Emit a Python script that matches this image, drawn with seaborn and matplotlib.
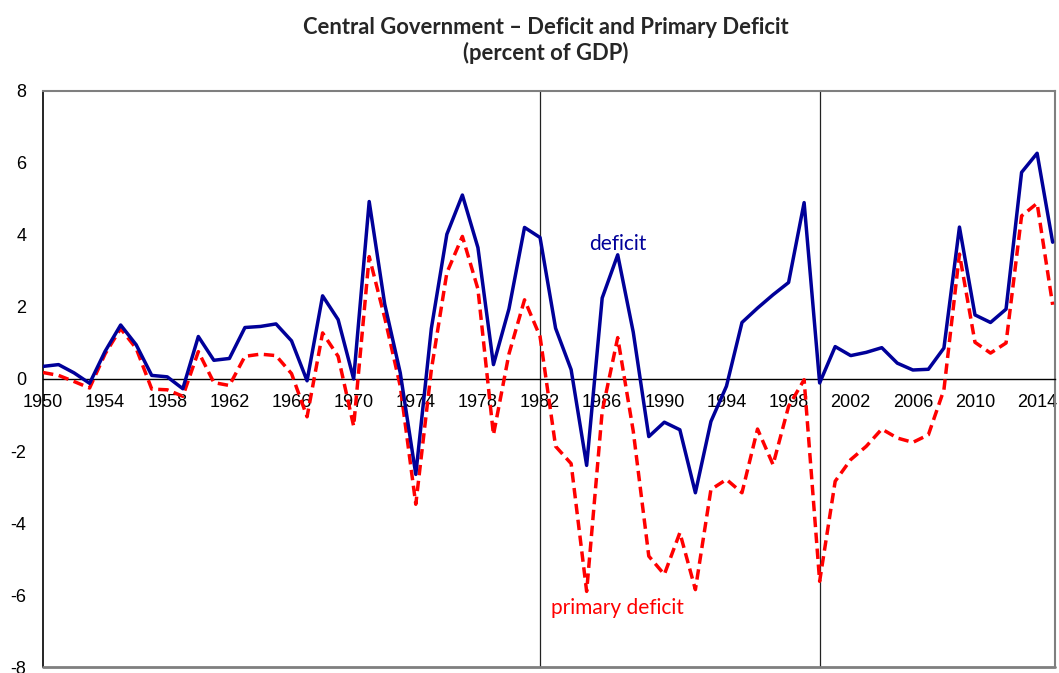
import matplotlib
matplotlib.use('Agg')
import matplotlib.pyplot as plt
import seaborn as sns

# years on the x axis
years = list(range(1950, 2016))

# overall deficit (% of GDP)
deficit = [0.35, 0.40, 0.17, -0.12, 0.77, 1.50, 0.95, 0.10, 0.06, -0.27,
           1.18, 0.52, 0.57, 1.43, 1.46, 1.53, 1.06, -0.05, 2.31, 1.65,
           0.00, 4.93, 2.08, 0.17, -2.65, 1.40, 4.02, 5.11, 3.65, 0.40,
           1.95, 4.21, 3.93, 1.41, 0.26, -2.40, 2.25, 3.45, 1.30, -1.60,
           -1.20, -1.41, -3.16, -1.18, -0.20, 1.57, 1.97, 2.34, 2.68, 4.90,
           -0.11, 0.90, 0.65, 0.74, 0.87, 0.44, 0.25, 0.27, 0.86, 4.22,
           1.78, 1.57, 1.94, 5.74, 6.27, 3.80]

# primary deficit (% of GDP)
primary = [0.18, 0.10, -0.07, -0.25, 0.70, 1.40, 0.85, -0.28, -0.30, -0.48,
           0.76, -0.10, -0.18, 0.63, 0.69, 0.65, 0.15, -1.05, 1.28, 0.63,
           -1.31, 3.40, 1.70, -0.20, -3.48, 0.25, 2.95, 3.96, 2.50, -1.55,
           0.70, 2.20, 1.18, -1.87, -2.35, -5.90, -0.90, 1.15, -1.45, -4.92,
           -5.43, -4.27, -5.85, -3.07, -2.79, -3.16, -1.39, -2.38, -0.76, -0.02,
           -5.62, -2.84, -2.24, -1.87, -1.39, -1.64, -1.76, -1.55, -0.30, 3.47,
           1.02, 0.72, 1.00, 4.53, 4.88, 2.06]

xticks = list(range(1950, 2015, 4))
yticks = list(range(-8, 9, 2))
breaks = [1982, 2000]

sns.set_style('white')
plt.rcParams['font.family'] = ['Liberation Sans', 'DejaVu Sans']
plt.rcParams['axes.unicode_minus'] = False

fig = plt.figure(figsize=(10.59, 6.73), dpi=100)
ax = fig.add_axes([0.0406, 0.0089, 0.9556, 0.8559])

sns.lineplot(x=years, y=primary, ax=ax, color='#ff0000', linewidth=2.5,
             linestyle=(0, (3, 1.6)), zorder=3)
sns.lineplot(x=years, y=deficit, ax=ax, color='#000099', linewidth=2.5,
             zorder=4)

for b in breaks:
    ax.axvline(b, color='#222222', linewidth=0.9, zorder=2)

ax.set_xlim(1950, 2015.15)
ax.set_ylim(-8, 8)
ax.set_xticks(xticks)
ax.set_yticks(yticks)
ax.set_xlabel('')
ax.set_ylabel('')

# x axis crosses at zero, frame around the plot area
ax.spines['bottom'].set_position(('data', 0))
ax.spines['bottom'].set_color('black')
ax.spines['bottom'].set_linewidth(1.0)
ax.spines['left'].set_color('black')
ax.spines['left'].set_linewidth(1.2)
for s in ['top', 'right']:
    ax.spines[s].set_color('#7f7f7f')
    ax.spines[s].set_linewidth(1.5)
ax.axhline(-8, color='#7f7f7f', linewidth=2, zorder=5, clip_on=False)

ax.tick_params(axis='both', direction='out', length=5, width=1,
               labelsize=13, colors='black', pad=6)
ax.tick_params(axis='y', pad=7)

ax.text(1987.0, 3.75, 'deficit', color='#000099', fontsize=15,
        family=['Lato', 'DejaVu Sans'], ha='center', va='center')
ax.text(1986.95, -6.35, 'primary deficit', color='#ff0000', fontsize=15,
        family=['Lato', 'DejaVu Sans'], ha='center', va='center')

fig.text(0.5155, 1 - 28 / 673, 'Central Government \u2013 Deficit and Primary Deficit',
         ha='center', va='center', fontsize=15.8, fontweight='bold',
         family=['Lato', 'DejaVu Sans'])
fig.text(0.5155, 1 - 53 / 673, '(percent of GDP)',
         ha='center', va='center', fontsize=15.8, fontweight='bold',
         family=['Lato', 'DejaVu Sans'])

fig.savefig('out.png', dpi=100)
